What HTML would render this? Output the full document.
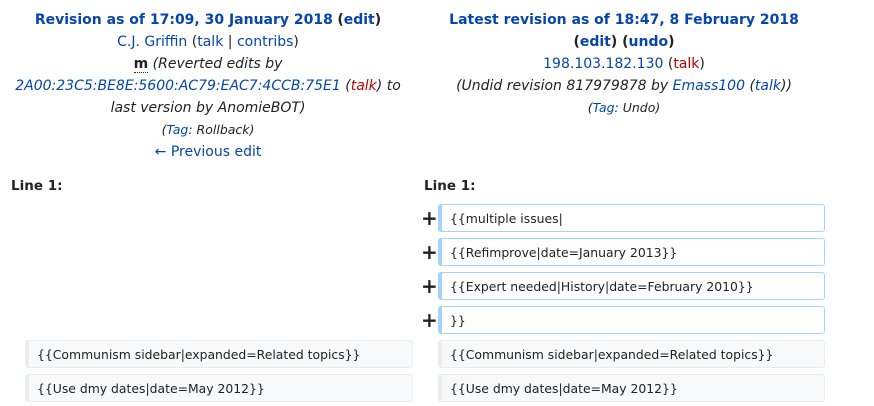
<!DOCTYPE html>
<html><head><style>
body{margin:0;width:874px;height:406px;background:#fff;font-family:"DejaVu Sans",sans-serif;color:#222;position:relative;overflow:hidden}
.col{position:absolute;top:9px;text-align:center;font-size:14px;line-height:22px}
a,.b{color:#0645ad;text-decoration:none}
.r{color:#ba0000}
.t{font-weight:bold;color:#0645ad}
.lt{font-weight:bold;color:#222}
i{font-style:italic;color:#222}
.ln{position:absolute;font-weight:bold;font-size:13.5px;top:178px}
.box{position:absolute;height:28px;line-height:28px;font-size:12.4px;padding-left:8px;box-sizing:border-box;border-radius:3px}
.add{border:1px solid #a3d3ff;border-left:4px solid #a3d3ff;background:#fff}
.ctx{border:1px solid #eaecf0;border-left:4px solid #eaecf0;background:#f8f9fa}
.plus{position:absolute;left:421px;font-size:20px;font-weight:bold;line-height:20px}
</style></head><body>
<div class="col" style="left:0;width:416px">
<div><span class="t">Revision as of 17:09, 30 January 2018</span> <span class="lt">(<span class="b">edit</span>)</span></div>
<div><a>C.J. Griffin</a> (<a>talk</a> | <a>contribs</a>)</div>
<div><b style="border-bottom:1px dotted #222">m</b> <i>(Reverted edits by</i></div>
<div><i><a>2A00:23C5:BE8E:5600:AC79:EAC7:4CCB:75E1</a> (<span class="r">talk</span>) to</i></div>
<div><i>last version by AnomieBOT)</i></div>
<div style="font-size:12.5px"><i>(<a>Tag</a>: Rollback)</i></div>
<div><a>← Previous edit</a></div>
</div>
<div class="col" style="left:416px;width:416px">
<div><span class="t">Latest revision as of 18:47, 8 February 2018</span></div>
<div class="lt">(<span class="b">edit</span>) (<span class="b">undo</span>)</div>
<div><a>198.103.182.130</a> (<span class="r">talk</span>)</div>
<div><i>(Undid revision 817979878 by <a>Emass100</a> (<a>talk</a>))</i></div>
<div style="font-size:12.5px"><i>(<a>Tag</a>: Undo)</i></div>
</div>
<div class="ln" style="left:11px">Line 1:</div>
<div class="ln" style="left:424px">Line 1:</div>
<div class="plus" style="top:208px">+</div>
<div class="plus" style="top:242px">+</div>
<div class="plus" style="top:276px">+</div>
<div class="plus" style="top:310px">+</div>
<div class="box add" style="left:438px;top:204px;width:387px">{{multiple issues|</div>
<div class="box add" style="left:438px;top:238px;width:387px">{{Refimprove|date=January 2013}}</div>
<div class="box add" style="left:438px;top:272px;width:387px">{{Expert needed|History|date=February 2010}}</div>
<div class="box add" style="left:438px;top:306px;width:387px">}}</div>
<div class="box ctx" style="left:25px;top:340px;width:388px">{{Communism sidebar|expanded=Related topics}}</div>
<div class="box ctx" style="left:25px;top:374px;width:388px">{{Use dmy dates|date=May 2012}}</div>
<div class="box ctx" style="left:438px;top:340px;width:387px">{{Communism sidebar|expanded=Related topics}}</div>
<div class="box ctx" style="left:438px;top:374px;width:387px">{{Use dmy dates|date=May 2012}}</div>
</body></html>
